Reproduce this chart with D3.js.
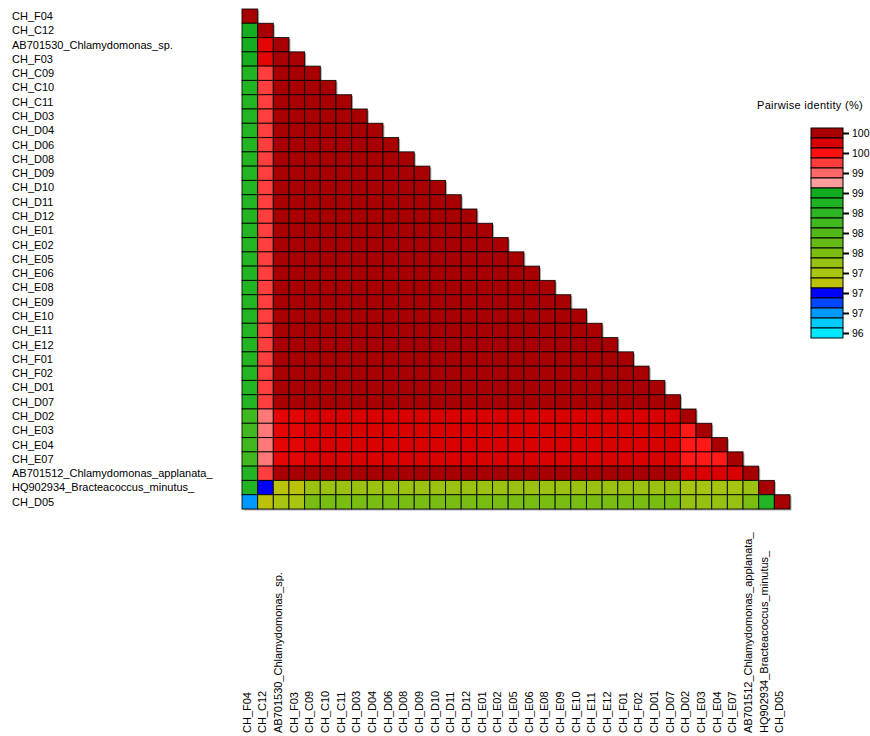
<!DOCTYPE html>
<html>
<head>
<meta charset="utf-8">
<script src="https://cdn.jsdelivr.net/npm/d3@7"></script>
<style>
  body { margin: 0; background: #fff; overflow: hidden; }
  text { font-family: Arial, "Liberation Sans", sans-serif; fill: #000; }
</style>
</head>
<body>
<svg id="chart" width="870" height="736"></svg>
<script>
// Sequence names, in matrix order (rows top to bottom, columns left to right)
const sequences = [
  "CH_F04", "CH_C12", "AB701530_Chlamydomonas_sp.", "CH_F03", "CH_C09", "CH_C10",
  "CH_C11", "CH_D03", "CH_D04", "CH_D06", "CH_D08", "CH_D09", "CH_D10", "CH_D11",
  "CH_D12", "CH_E01", "CH_E02", "CH_E05", "CH_E06", "CH_E08", "CH_E09", "CH_E10",
  "CH_E11", "CH_E12", "CH_F01", "CH_F02", "CH_D01", "CH_D07", "CH_D02", "CH_E03",
  "CH_E04", "CH_E07", "AB701512_Chlamydomonas_applanata_",
  "HQ902934_Bracteacoccus_minutus_", "CH_D05"
];

// Pairwise identity (%), lower triangle: row i holds columns 0..i
const identity = [
  [100],
  [98.8,100],
  [98.8,99.75,100],
  [98.8,99.75,100,100],
  [98.6,99.42, 100,100,100],
  [98.6,99.42, 100,100,100,100],
  [98.6,99.42, 100,100,100,100,100],
  [98.6,99.42, 100,100,100,100,100, 100],
  [98.6,99.42, 100,100,100,100,100, 100,100],
  [98.6,99.42, 100,100,100,100,100, 100,100,100],
  [98.6,99.42, 100,100,100,100,100, 100,100,100,100],
  [98.6,99.42, 100,100,100,100,100, 100,100,100,100,100],
  [98.6,99.42, 100,100,100,100,100, 100,100,100,100,100, 100],
  [98.6,99.42, 100,100,100,100,100, 100,100,100,100,100, 100,100],
  [98.6,99.42, 100,100,100,100,100, 100,100,100,100,100, 100,100,100],
  [98.6,99.42, 100,100,100,100,100, 100,100,100,100,100, 100,100,100,100],
  [98.6,99.42, 100,100,100,100,100, 100,100,100,100,100, 100,100,100,100,100],
  [98.6,99.42, 100,100,100,100,100, 100,100,100,100,100, 100,100,100,100,100, 100],
  [98.6,99.42, 100,100,100,100,100, 100,100,100,100,100, 100,100,100,100,100, 100,100],
  [98.6,99.42, 100,100,100,100,100, 100,100,100,100,100, 100,100,100,100,100, 100,100,100],
  [98.6,99.42, 100,100,100,100,100, 100,100,100,100,100, 100,100,100,100,100, 100,100,100,100],
  [98.6,99.42, 100,100,100,100,100, 100,100,100,100,100, 100,100,100,100,100, 100,100,100,100,100],
  [98.6,99.42, 100,100,100,100,100, 100,100,100,100,100, 100,100,100,100,100, 100,100,100,100,100, 100],
  [98.6,99.42, 100,100,100,100,100, 100,100,100,100,100, 100,100,100,100,100, 100,100,100,100,100, 100,100],
  [98.6,99.42, 100,100,100,100,100, 100,100,100,100,100, 100,100,100,100,100, 100,100,100,100,100, 100,100,100],
  [98.6,99.42, 100,100,100,100,100, 100,100,100,100,100, 100,100,100,100,100, 100,100,100,100,100, 100,100,100,100],
  [98.6,99.42, 100,100,100,100,100, 100,100,100,100,100, 100,100,100,100,100, 100,100,100,100,100, 100,100,100,100,100],
  [98.6,99.42, 100,100,100,100,100, 100,100,100,100,100, 100,100,100,100,100, 100,100,100,100,100, 100,100,100,100,100, 100],
  [98.28,99.18,99.75,99.75, 99.8,99.8,99.8,99.8,99.8, 99.8,99.8,99.8,99.8,99.8, 99.8,99.8,99.8,99.8,99.8, 99.8,99.8,99.8,99.8,99.8, 99.8,99.8,99.8,99.8, 100],
  [98.28,99.18,99.75,99.75, 99.8,99.8,99.8,99.8,99.8, 99.8,99.8,99.8,99.8,99.8, 99.8,99.8,99.8,99.8,99.8, 99.8,99.8,99.8,99.8,99.8, 99.8,99.8,99.8,99.8, 99.58, 100],
  [98.28,99.18,99.75,99.75, 99.8,99.8,99.8,99.8,99.8, 99.8,99.8,99.8,99.8,99.8, 99.8,99.8,99.8,99.8,99.8, 99.8,99.8,99.8,99.8,99.8, 99.8,99.8,99.8,99.8, 99.58,99.58, 100],
  [98.28,99.18,99.75,99.75, 99.8,99.8,99.8,99.8,99.8, 99.8,99.8,99.8,99.8,99.8, 99.8,99.8,99.8,99.8,99.8, 99.8,99.8,99.8,99.8,99.8, 99.8,99.8,99.8,99.8, 99.58,99.58,99.58, 100],
  [98.6,99.42, 100,100,100,100,100, 100,100,100,100,100, 100,100,100,100,100, 100,100,100,100,100, 100,100,100,100,100, 100, 99.8,99.8,99.8,99.8, 100],
  [98.6,96.96,97.15,97.15, 97.5,97.5,97.5,97.5,97.5, 97.5,97.5,97.5,97.5,97.5, 97.5,97.5,97.5,97.5,97.5, 97.5,97.5,97.5,97.5,97.5, 97.5,97.5,97.5,97.5, 97.38,97.38,97.38,97.38, 97.5, 100],
  [96.58,97.15,97.35,97.35, 97.75,97.75,97.75,97.75,97.75, 97.75,97.75,97.75,97.75,97.75, 97.75,97.75,97.75,97.75,97.75, 97.75,97.75,97.75,97.75,97.75, 97.75,97.75,97.75,97.75, 97.55,97.55,97.55,97.55, 97.72, 98.6, 100]
];

// Colour key: one stop per legend box, highest identity first
const legendValues = [100, 99.81, 99.62, 99.43, 99.24, 99.05, 98.86, 98.67, 98.48, 98.29,
                      98.10, 97.91, 97.72, 97.53, 97.34, 97.15, 96.96, 96.77, 96.58, 96.39, 96.20];
const legendColors = ["#a80000", "#d80000", "#ff1010", "#ff3c3c", "#ff6868", "#ff9c9c",
                      "#12ac20", "#1db322", "#2db526", "#40b820", "#52b81a", "#66ba15",
                      "#7cbd12", "#98c212", "#aac512", "#bcc20a", "#0000ff", "#0048ff",
                      "#0099ff", "#00ccff", "#00e8ff"];
const legendTitle = "Pairwise identity (%)";

const svg = d3.select("#chart");

const x = d3.scaleBand().domain(sequences).range([242, 790]);
const y = d3.scaleBand().domain(sequences).range([9, 509]);
const color = d3.scaleLinear().domain(legendValues).range(legendColors).clamp(true);

const cells = identity.flatMap((row, i) =>
  row.map((v, j) => ({ row: sequences[i], col: sequences[j], v })));

// soft drop shadow under the triangle
svg.append("g")
  .selectAll("rect")
  .data(cells)
  .join("rect")
  .attr("x", d => x(d.col) + 1.5)
  .attr("y", d => y(d.row) + 1.5)
  .attr("width", x.bandwidth())
  .attr("height", y.bandwidth())
  .attr("fill", "#8c8c8c")
  .attr("opacity", 0.7);

// heatmap cells
svg.append("g")
  .selectAll("rect")
  .data(cells)
  .join("rect")
  .attr("x", d => x(d.col))
  .attr("y", d => y(d.row))
  .attr("width", x.bandwidth())
  .attr("height", y.bandwidth())
  .attr("fill", d => color(d.v))
  .attr("stroke", "#000")
  .attr("stroke-opacity", 0.85)
  .attr("stroke-width", 1);

// row labels
svg.append("g")
  .selectAll("text")
  .data(sequences)
  .join("text")
  .attr("x", 12)
  .attr("y", d => y(d) + y.bandwidth() / 2)
  .attr("dy", "0.35em")
  .attr("font-size", 11)
  .text(d => d);

// column labels, reading upwards
svg.append("g")
  .selectAll("text")
  .data(sequences)
  .join("text")
  .attr("transform", d => `translate(${x(d) + x.bandwidth() / 2 + 1},733) rotate(-90)`)
  .attr("text-anchor", "start")
  .attr("font-size", 11)
  .text(d => d);

// legend
const legend = svg.append("g");
legend.append("text")
  .attr("x", 757)
  .attr("y", 109)
  .attr("font-size", 11)
  .attr("letter-spacing", 0.3)
  .text(legendTitle);

const boxY = d3.scaleBand().domain(d3.range(legendValues.length)).range([128, 338]);
legend.selectAll("rect")
  .data(legendValues)
  .join("rect")
  .attr("x", 811)
  .attr("y", (d, i) => boxY(i))
  .attr("width", 32)
  .attr("height", boxY.bandwidth())
  .attr("fill", d => color(d))
  .attr("stroke", "#000")
  .attr("stroke-width", 1);

const keyScale = d3.scaleLinear()
  .domain([legendValues[0], legendValues[legendValues.length - 1]])
  .range([boxY(0) + boxY.bandwidth() / 2, boxY(legendValues.length - 1) + boxY.bandwidth() / 2]);

const keyAxis = legend.append("g")
  .attr("transform", "translate(843,0)")
  .call(d3.axisRight(keyScale)
    .tickValues(legendValues.filter((d, i) => i % 2 === 0))
    .tickFormat(d3.format(".0f"))
    .tickSize(6)
    .tickPadding(3));
keyAxis.select(".domain").remove();
keyAxis.selectAll(".tick line").attr("stroke", "#000").attr("stroke-width", 2);
keyAxis.selectAll(".tick text")
  .attr("font-size", 10.5)
  .attr("font-family", "Arial, 'Liberation Sans', sans-serif")
  .attr("fill", "#000");
</script>
</body>
</html>
